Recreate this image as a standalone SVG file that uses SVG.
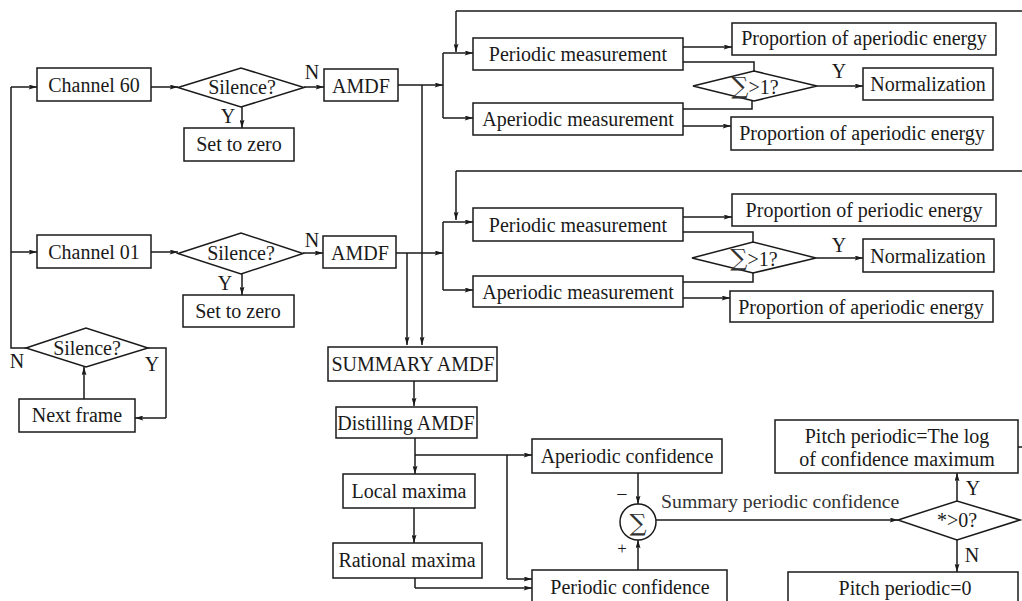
<svg xmlns="http://www.w3.org/2000/svg" width="1022" height="601" viewBox="0 0 1022 601">
<defs>
<marker id="ah" viewBox="0 0 10 6" refX="10" refY="3" markerWidth="9" markerHeight="5" markerUnits="userSpaceOnUse" orient="auto">
<path d="M0,0 L10,3 L0,6 L2,3 z" fill="#1a1a1a"/>
</marker>
<style>
rect,polygon,circle{fill:#fff;stroke:#1a1a1a;stroke-width:1.5}
.c{fill:none;stroke:#1a1a1a;stroke-width:1.5}
.a{fill:none;stroke:#1a1a1a;stroke-width:1.5;marker-end:url(#ah)}
text{font-family:"Liberation Serif","DejaVu Serif",serif;font-size:20px;fill:#1a1a1a;text-anchor:middle}
.l{text-anchor:start}
.s{font-size:19.8px;fill:#333}
.g{font-family:"DejaVu Serif",serif;font-size:24px;fill:#333}
</style>
</defs>
<rect width="1022" height="601" fill="#fff" style="stroke:none"/>

<g id="connectors">
<path class="c" d="M26,348 H11 V87"/>
<path class="a" d="M11,87 H37"/>
<path class="a" d="M11,252 H37"/>
<path class="a" d="M151,87 H178"/>
<path class="a" d="M151,252 H178"/>
<path class="a" d="M242,107 V128"/>
<path class="a" d="M242,274 V295"/>
<path class="a" d="M304,87 H324"/>
<path class="a" d="M303,253 H323"/>
<path class="c" d="M148,348 H166 V418"/>
<path class="a" d="M166,418 H135"/>
<path class="a" d="M84,399 V367"/>
<path class="a" d="M398,85 H443"/>
<path class="c" d="M443,53 V118"/>
<path class="a" d="M443,53 H473"/>
<path class="a" d="M443,118 H473"/>
<path class="c" d="M1022,11 H456"/>
<path class="a" d="M456,11 V52"/>
<path class="a" d="M422,85 V345"/>
<path class="a" d="M396,253 H443"/>
<path class="c" d="M443,222 V290"/>
<path class="a" d="M443,222 H473"/>
<path class="a" d="M443,290 H473"/>
<path class="c" d="M1022,171 H456"/>
<path class="a" d="M456,171 V220"/>
<path class="a" d="M407,253 V345"/>
<path class="a" d="M683,47 H732"/>
<path class="c" d="M683,62 H754 V71"/>
<path class="c" d="M752,101 V109 H683"/>
<path class="a" d="M817,86 H863"/>
<path class="a" d="M683,126 H731"/>
<path class="a" d="M683,217 H732"/>
<path class="c" d="M683,232 H753 V242"/>
<path class="c" d="M753,273 V282 H683"/>
<path class="a" d="M816,258 H863"/>
<path class="a" d="M683,298 H730"/>
<path class="a" d="M414,381 V406"/>
<path class="a" d="M415,438 V474"/>
<path class="a" d="M415,455 H532"/>
<path class="c" d="M507,455 V579"/>
<path class="a" d="M507,579 H532"/>
<path class="a" d="M414,508 V543"/>
<path class="c" d="M415,578 V588"/>
<path class="a" d="M415,588 H532"/>
<path class="a" d="M638,473 V504"/>
<path class="a" d="M638,570 V540"/>
<path class="a" d="M656,520 H898"/>
<path class="a" d="M957,501 V473"/>
<path class="a" d="M957,540 V572"/>
<path class="c" d="M1018,447 H1022"/>
</g>

<g id="labels">
<text x="312" y="79">N</text>
<text x="228" y="123">Y</text>
<text x="312" y="247">N</text>
<text x="225" y="290">Y</text>
<text x="17" y="368">N</text>
<text x="152" y="371">Y</text>
<text x="839" y="78">Y</text>
<text x="839" y="252">Y</text>
<text x="973" y="495">Y</text>
<text x="972" y="562">N</text>
<text x="622" y="501">−</text>
<text x="622" y="554" style="font-size:17px">+</text>
<text class="l s" x="661" y="508">Summary periodic confidence</text>
</g>

<g id="ch60"><rect x="37" y="68" width="114" height="33"/><text x="94" y="92">Channel 60</text></g>
<g id="sil1"><polygon points="178,87.5 241,68 304,87.5 241,107"/><text x="242" y="94">Silence?</text></g>
<g id="zero1"><rect x="184" y="128" width="110" height="33"/><text x="239" y="151">Set to zero</text></g>
<g id="amdf1"><rect x="324" y="69" width="74" height="32"/><text x="361" y="93">AMDF</text></g>
<g id="pm1"><rect x="473" y="38" width="210" height="32"/><text x="578" y="61">Periodic measurement</text></g>
<g id="am1"><rect x="473" y="103" width="210" height="32"/><text x="578" y="126">Aperiodic measurement</text></g>
<g id="pae1"><rect x="732" y="23" width="264" height="32"/><text x="864" y="45">Proportion of aperiodic energy</text></g>
<g id="sum1"><polygon points="693,86 754,71 817,86 754,101"/><text x="755" y="94"><tspan class="g">∑</tspan>&gt;1?</text></g>
<g id="norm1"><rect x="863" y="68" width="130" height="32"/><text x="928" y="91">Normalization</text></g>
<g id="pae1b"><rect x="731" y="117" width="262" height="33"/><text x="862" y="140">Proportion of aperiodic energy</text></g>

<g id="ch01"><rect x="37" y="235" width="114" height="33"/><text x="94" y="259">Channel 01</text></g>
<g id="sil2"><polygon points="178,253.5 241,233 303,253.5 241,274"/><text x="241" y="260">Silence?</text></g>
<g id="zero2"><rect x="183" y="295" width="111" height="32"/><text x="238" y="318">Set to zero</text></g>
<g id="amdf2"><rect x="323" y="236" width="73" height="32"/><text x="360" y="260">AMDF</text></g>
<g id="pm2"><rect x="473" y="208" width="210" height="33"/><text x="578" y="232">Periodic measurement</text></g>
<g id="am2"><rect x="473" y="276" width="210" height="31"/><text x="578" y="299">Aperiodic measurement</text></g>
<g id="ppe2"><rect x="732" y="194" width="264" height="32"/><text x="864" y="217">Proportion of periodic energy</text></g>
<g id="sum2"><polygon points="692,258 753,242 816,258 753,273"/><text x="754" y="266"><tspan class="g">∑</tspan>&gt;1?</text></g>
<g id="norm2"><rect x="863" y="239" width="131" height="33"/><text x="928" y="263">Normalization</text></g>
<g id="pae2"><rect x="730" y="291" width="263" height="31"/><text x="861" y="314">Proportion of aperiodic energy</text></g>

<g id="sil3"><polygon points="26,348 86,328 148,348 86,367"/><text x="87" y="355">Silence?</text></g>
<g id="next"><rect x="19" y="399" width="116" height="33"/><text x="77" y="422">Next frame</text></g>

<g id="summary"><rect x="328" y="347" width="169" height="34"/><text x="413" y="371">SUMMARY AMDF</text></g>
<g id="distill"><rect x="336" y="407" width="141" height="31"/><text x="406" y="430">Distilling AMDF</text></g>
<g id="local"><rect x="343" y="474" width="132" height="34"/><text x="409" y="498">Local maxima</text></g>
<g id="rational"><rect x="333" y="543" width="149" height="35"/><text x="407" y="567">Rational maxima</text></g>
<g id="apconf"><rect x="532" y="439" width="190" height="34"/><text x="627" y="463">Aperiodic confidence</text></g>
<g id="perconf"><rect x="532" y="570" width="195" height="40"/><text x="630" y="594">Periodic confidence</text></g>
<g id="sigma"><circle cx="638" cy="522" r="18"/><text class="g" x="638" y="531">∑</text></g>
<g id="gt0"><polygon points="898,520 957,501 1020,520 957,540"/><text x="957" y="527">*&gt;0?</text></g>
<g id="pitch"><rect x="775" y="420" width="243" height="53"/><text x="897" y="443">Pitch periodic=The log</text><text x="897" y="466">of confidence maximum</text></g>
<g id="pitch0"><rect x="788" y="572" width="230" height="40"/><text x="905" y="595">Pitch periodic=0</text></g>
</svg>
